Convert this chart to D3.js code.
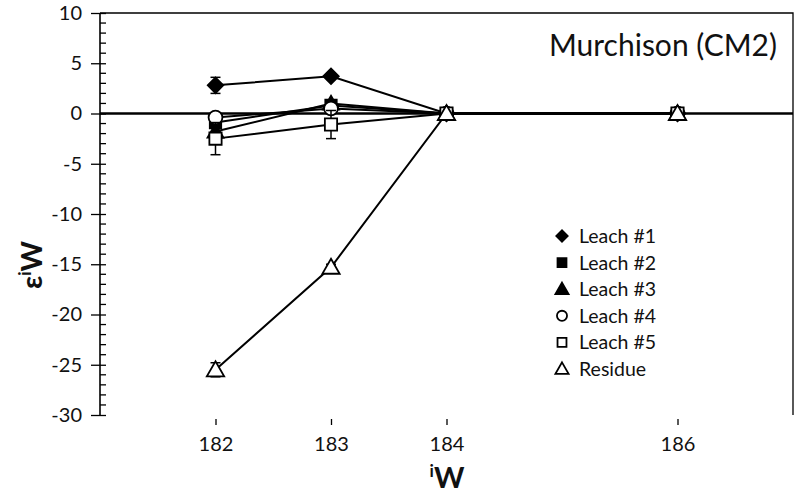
<!DOCTYPE html>
<meta charset="utf-8">
<style>
body { margin: 0; background: #fff; }
text { font-family: Lato, "Open Sans", sans-serif; fill: #111; }
</style>
<body>
<script src="https://d3js.org/d3.v7.min.js"></script>
<script>
var w = 800, h = 496;

// isotopes on the x axis
var isotopes = [182, 183, 184, 186];
var yTicks = [10, 5, 0, -5, -10, -15, -20, -25, -30];

var seriesNames = ["Leach #1", "Leach #2", "Leach #3", "Leach #4", "Leach #5", "Residue"];
var leach1 = [2.8, 3.7, 0, 0];
var leach2 = [-0.9, 0.8, 0, 0];
var leach3 = [-1.8, 1.0, 0, 0];
var leach4 = [-0.4, 0.5, 0, 0];
var leach5 = [-2.5, -1.1, 0, 0];
var residue = [-25.5, -15.3, 0, 0];
// 2SE error bars
var err1 = [0.8, 0.3, 0, 0];
var err5 = [1.6, 1.4, 0, 0];
var errRes = [0.7, 0.3, 0, 0];

var series = [
  {name: seriesNames[0], vals: leach1, err: err1, sym: "diamond", fill: "#000", size: 120},
  {name: seriesNames[1], vals: leach2, err: null, sym: d3.symbolSquare, fill: "#000", size: 130},
  {name: seriesNames[2], vals: leach3, err: null, sym: d3.symbolTriangle, fill: "#000", size: 110},
  {name: seriesNames[3], vals: leach4, err: null, sym: d3.symbolCircle, fill: "#fff", size: 150},
  {name: seriesNames[4], vals: leach5, err: err5, sym: d3.symbolSquare, fill: "#fff", size: 150},
  {name: seriesNames[5], vals: residue, err: errRes, sym: d3.symbolTriangle, fill: "#fff", size: 130}
];

function symType(s) { return s === "diamond" ? d3.symbolSquare : s; }
function symRot(s) { return s === "diamond" ? " rotate(45)" : ""; }

var mLeft = 100, mRight = 793, mTop = 13, mBottom = 415;

var x = d3.scaleLinear().domain([181, 187]).range([mLeft, mRight]);
var y = d3.scaleLinear().domain([-30, 10]).range([mBottom, mTop]);

var svg = d3.select("body").append("svg")
    .attr("width", w)
    .attr("height", h);

// plot frame (top and right)
svg.append("path")
    .attr("d", "M" + mLeft + "," + mTop + "H" + mRight + "V" + mBottom)
    .attr("fill", "none").attr("stroke", "#000").attr("stroke-width", 1.3);

// minor y ticks, inside
svg.append("g")
    .selectAll("line")
    .data(d3.range(-30, 11, 1).filter(function(v){ return v % 5 != 0; }))
    .enter().append("line")
    .attr("x1", mLeft).attr("x2", mLeft + 6)
    .attr("y1", function(d){ return y(d); })
    .attr("y2", function(d){ return y(d); })
    .attr("stroke", "#000").attr("stroke-width", 1.3);

// y axis with major ticks crossing
var yAxis = svg.append("g")
    .attr("transform", "translate(" + mLeft + ",0)")
    .call(d3.axisLeft(y).tickValues(yTicks).tickSize(9).tickPadding(9).tickFormat(d3.format("d")));
yAxis.select(".domain").remove();
yAxis.selectAll(".tick line").attr("x2", -9).attr("x1", 6).attr("stroke-width", 1.3);
yAxis.selectAll("text").style("font-size", "20px").style("font-family", "Lato, sans-serif")
    .text(function(d){ return d < 0 ? "-" + Math.abs(d) : d; });
svg.append("line")
    .attr("x1", mLeft).attr("x2", mLeft)
    .attr("y1", mTop).attr("y2", mBottom)
    .attr("stroke", "#000").attr("stroke-width", 1.6);

// x ticks and labels at the bottom
var xAxis = svg.append("g")
    .attr("transform", "translate(0," + (mBottom + 4) + ")")
    .call(d3.axisBottom(x).tickValues(isotopes).tickSize(6).tickPadding(12).tickFormat(d3.format("d")));
xAxis.select(".domain").remove();
xAxis.selectAll(".tick line").attr("stroke-width", 1.3);
xAxis.selectAll("text").style("font-size", "20px").style("font-family", "Lato, sans-serif");

// zero line
svg.append("line")
    .attr("x1", mLeft).attr("x2", mRight)
    .attr("y1", y(0)).attr("y2", y(0))
    .attr("stroke", "#000").attr("stroke-width", 2.5);

var line = d3.line()
    .x(function(d, i){ return x(isotopes[i]); })
    .y(function(d){ return y(d); });

var g = svg.append("g");

series.forEach(function(s){
  g.append("path")
      .attr("d", line(s.vals))
      .attr("fill", "none").attr("stroke", "#000").attr("stroke-width", 2);
});

series.forEach(function(s){
  if (s.err) {
    s.vals.forEach(function(v, i){
      if (!s.err[i]) return;
      var cx = x(isotopes[i]);
      var y0 = y(v - s.err[i]), y1 = y(v + s.err[i]);
      g.append("line").attr("x1", cx).attr("x2", cx).attr("y1", y0).attr("y2", y1)
          .attr("stroke", "#000").attr("stroke-width", 1.5);
      [y0, y1].forEach(function(yy){
        g.append("line").attr("x1", cx - 5).attr("x2", cx + 5).attr("y1", yy).attr("y2", yy)
            .attr("stroke", "#000").attr("stroke-width", 1.5);
      });
    });
  }
  g.selectAll(null)
      .data(s.vals)
      .enter().append("path")
      .attr("d", d3.symbol().type(symType(s.sym)).size(s.size))
      .attr("transform", function(d, i){
        var dy = s.sym === d3.symbolTriangle ? 1.5 : 0;
        return "translate(" + x(isotopes[i]) + "," + (y(d) + dy) + ")" + symRot(s.sym);
      })
      .attr("fill", s.fill)
      .attr("stroke", "#000").attr("stroke-width", 1.8);
});

// legend
var leg = svg.append("g").attr("transform", "translate(562,236)");
series.forEach(function(s, i){
  var row = leg.append("g").attr("transform", "translate(0," + (i * 26.6) + ")");
  row.append("path")
      .attr("d", d3.symbol().type(symType(s.sym)).size(s.sym === d3.symbolTriangle ? 75 : (s.sym === "diamond" ? 65 : 80)))
      .attr("transform", s.sym === d3.symbolTriangle ? "translate(0,1)" : ("translate(0,0)" + symRot(s.sym)))
      .attr("fill", s.fill).attr("stroke", "#000").attr("stroke-width", 1.8);
  row.append("text")
      .attr("x", 17).attr("y", 7)
      .style("font-size", "19.5px")
      .text(s.name);
});

// sample label
svg.append("text")
    .attr("x", 777).attr("y", 56)
    .attr("text-anchor", "end")
    .style("font-size", "30px")
    .text("Murchison (CM2)");

// axis titles
var xt = svg.append("text")
    .attr("x", 447).attr("y", 488)
    .attr("text-anchor", "middle")
    .style("font-size", "29px").style("font-weight", "bold");
xt.append("tspan").attr("dy", "-11").style("font-size", "17px").text("i");
xt.append("tspan").attr("dy", "11").text("W");

var yt = svg.append("text")
    .attr("transform", "translate(42,265) rotate(-90)")
    .attr("text-anchor", "middle")
    .style("font-size", "29px").style("font-weight", "bold");
yt.append("tspan").text("ε");
yt.append("tspan").attr("dy", "-11").style("font-size", "17px").text("i");
yt.append("tspan").attr("dy", "11").text("W");
</script>
</body>
